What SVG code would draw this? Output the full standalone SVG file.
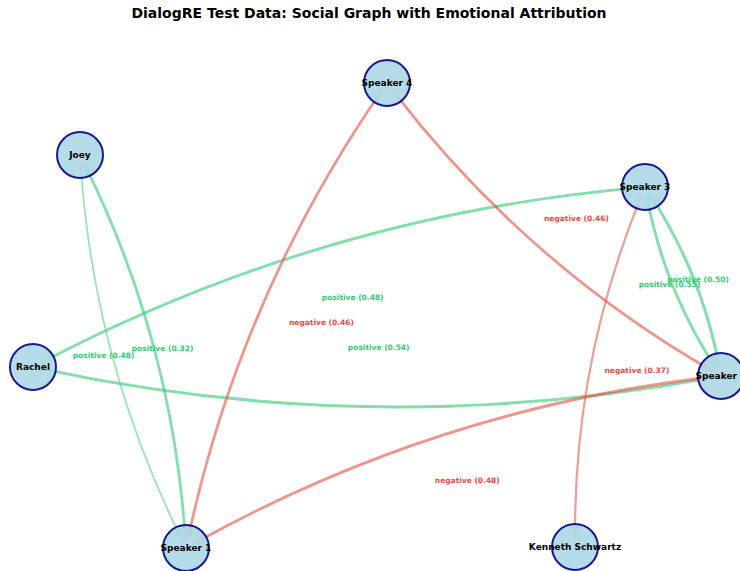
<svg xmlns="http://www.w3.org/2000/svg" width="740" height="571" viewBox="0 0 740 571">
<style>
.e{fill:none;}
.pos{stroke:#2ecc71;}
.neg{stroke:#e74c3c;}
.n circle{fill:#add8e6;stroke:#00008b;stroke-width:2;opacity:0.9;}
.n text{font-family:"DejaVu Sans",sans-serif;font-weight:bold;font-size:9px;fill:#000;text-anchor:middle;dominant-baseline:central;}
.lbl{font-family:"DejaVu Sans",sans-serif;font-weight:bold;font-size:7.5px;text-anchor:middle;dominant-baseline:central;}
.lp{fill:#2ecc71;}
.ln{fill:#e74c3c;}
.title{font-family:"DejaVu Sans",sans-serif;font-weight:bold;font-size:14px;text-anchor:middle;fill:#000;}
</style>
<defs>
<marker id="ag" markerUnits="userSpaceOnUse" markerWidth="12" markerHeight="8" refX="12" refY="4" orient="auto"><path d="M0,0 L12,4 L0,8 z" fill="#2ecc71"/></marker>
<marker id="ar" markerUnits="userSpaceOnUse" markerWidth="12" markerHeight="8" refX="12" refY="4" orient="auto"><path d="M0,0 L12,4 L0,8 z" fill="#e74c3c"/></marker>
</defs>
<rect width="740" height="571" fill="#fff"/>
<text class="title" x="369" y="18">DialogRE Test Data: Social Graph with Emotional Attribution</text>
<g id="edges">
<path class="e pos" d="M80.6,164 Q93.7,362.1 182,539.9" stroke-width="1.8" opacity="0.5" marker-end="url(#ag)"/>
<path class="e pos" d="M185.4,539 Q172.3,340.9 84,163.1" stroke-width="2.8" opacity="0.6" marker-end="url(#ag)"/>
<path class="e pos" d="M636,187.8 Q321,215.8 41,362.8" stroke-width="2.8" opacity="0.6" marker-end="url(#ag)"/>
<path class="e pos" d="M41.8,368.9 Q376.1,440.3 712.2,377.6" stroke-width="3" opacity="0.6" marker-end="url(#ag)"/>
<path class="e neg" d="M381.9,90.4 Q240,295.4 187.9,539.2" stroke-width="2.7" opacity="0.6" marker-end="url(#ar)"/>
<path class="e neg" d="M392.5,90.1 Q524.7,262.9 713.2,371.5" stroke-width="2.7" opacity="0.6" marker-end="url(#ar)"/>
<path class="e neg" d="M641.6,195.3 Q574,360 575,538" stroke-width="2.2" opacity="0.55" marker-end="url(#ar)"/>
<path class="e neg" d="M712.1,377 Q436.3,408.5 193.9,543.6" stroke-width="2.8" opacity="0.6" marker-end="url(#ar)"/>
<path class="e pos" d="M646.7,195.8 Q664.1,289.1 716.1,368.5" stroke-width="2.9" opacity="0.6" marker-end="url(#ag)"/>
<path class="e pos" d="M719.3,367.2 Q701.9,273.9 649.9,194.5" stroke-width="3" opacity="0.6" marker-end="url(#ag)"/>
</g>
<g id="edge-labels">
<text class="lbl ln" x="576.5" y="218">negative (0.46)</text>
<text class="lbl lp" x="698" y="279">positive (0.50)</text>
<text class="lbl lp" x="669.5" y="284">positive (0.55)</text>
<text class="lbl lp" x="352.7" y="297">positive (0.48)</text>
<text class="lbl ln" x="321.5" y="322.3">negative (0.46)</text>
<text class="lbl lp" x="378.7" y="347.5">positive (0.54)</text>
<text class="lbl lp" x="103.5" y="355.3">positive (0.48)</text>
<text class="lbl lp" x="162.5" y="348.3">positive (0.32)</text>
<text class="lbl ln" x="637" y="370">negative (0.37)</text>
<text class="lbl ln" x="467.3" y="480">negative (0.48)</text>
</g>
<g id="node-speaker4" class="n"><circle cx="387" cy="83" r="23"/><text x="387" y="83">Speaker 4</text></g>
<g id="node-joey" class="n"><circle cx="80" cy="155" r="23"/><text x="80" y="155">Joey</text></g>
<g id="node-speaker3" class="n"><circle cx="645" cy="187" r="23"/><text x="645" y="187">Speaker 3</text></g>
<g id="node-rachel" class="n"><circle cx="33" cy="367" r="23"/><text x="33" y="367">Rachel</text></g>
<g id="node-speaker2" class="n"><circle cx="721" cy="376" r="23"/><text x="721" y="376">Speaker 2</text></g>
<g id="node-speaker1" class="n"><circle cx="186" cy="548" r="23"/><text x="186" y="548">Speaker 1</text></g>
<g id="node-kenneth" class="n"><circle cx="575" cy="547" r="23"/><text x="575" y="547">Kenneth Schwartz</text></g>
</svg>
